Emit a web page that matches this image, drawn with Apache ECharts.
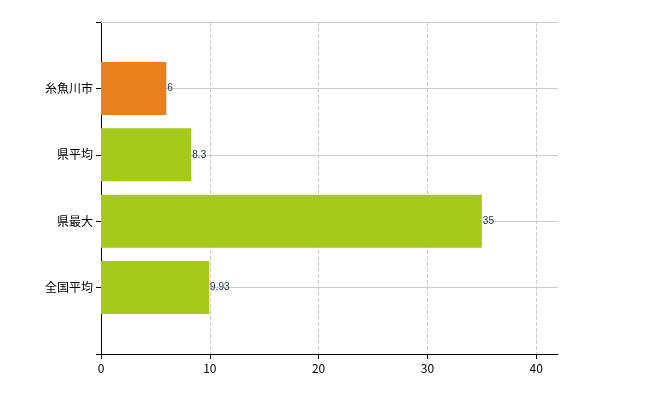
<!DOCTYPE html>
<html>
<head>
<meta charset="utf-8">
<script src="https://cdn.jsdelivr.net/npm/echarts@6/dist/echarts.min.js"></script>
<style>html,body{margin:0;padding:0;background:#fff}#chart{width:650px;height:400px}</style>
</head>
<body>
<div id="chart"></div>
<script>
// 下から上へ
var categories = ["", "全国平均", "県最大", "県平均", "糸魚川市", ""];
var values = [null, 9.93, 35, 8.3, 6, null];
var barColors = [null, "#a6c91c", "#a6c91c", "#a6c91c", "#e8801e", null];
var xTicks = [0, 10, 20, 30, 40];

var myChart = echarts.init(document.getElementById("chart"));
var option = {
    animation: false,
    grid: { left: 101, right: 92, top: 22, bottom: 46 },
    xAxis: [
        {
            type: "value",
            min: 0,
            max: 42,
            axisLine: { show: true, lineStyle: { color: "#000" } },
            axisTick: { show: true, length: 5, customValues: xTicks, lineStyle: { color: "#000" } },
            axisLabel: { customValues: xTicks, color: "#000", fontSize: 12, fontFamily: "Noto Sans CJK JP" },
            splitLine: { show: true, lineStyle: { color: "#ccc", type: "dashed" } }
        },
        {
            type: "value",
            position: "top",
            min: 0,
            max: 42,
            axisLine: { show: true, lineStyle: { color: "#ccc", type: "dashed" } },
            axisTick: { show: false },
            axisLabel: { show: false },
            splitLine: { show: false }
        }
    ],
    yAxis: {
        type: "category",
        data: categories,
        boundaryGap: false,
        axisLine: { lineStyle: { color: "#000" } },
        axisTick: { show: true, length: 5, inside: false, alignWithLabel: true, lineStyle: { color: "#000" } },
        axisLabel: { color: "#000", fontSize: 12, fontFamily: "Noto Sans CJK JP", margin: 8 },
        splitLine: { show: true, lineStyle: { color: "#ccc" } }
    },
    series: [
        {
            type: "bar",
            barWidth: 53,
            data: values.map(function (v, i) {
                return { value: v, itemStyle: { color: barColors[i] } };
            }),
            label: {
                show: true,
                position: "right",
                distance: 1,
                color: "#1a2a4a",
                fontSize: 10,
                fontFamily: "Arial"
            }
        }
    ]
};
myChart.setOption(option);
</script>
</body>
</html>
